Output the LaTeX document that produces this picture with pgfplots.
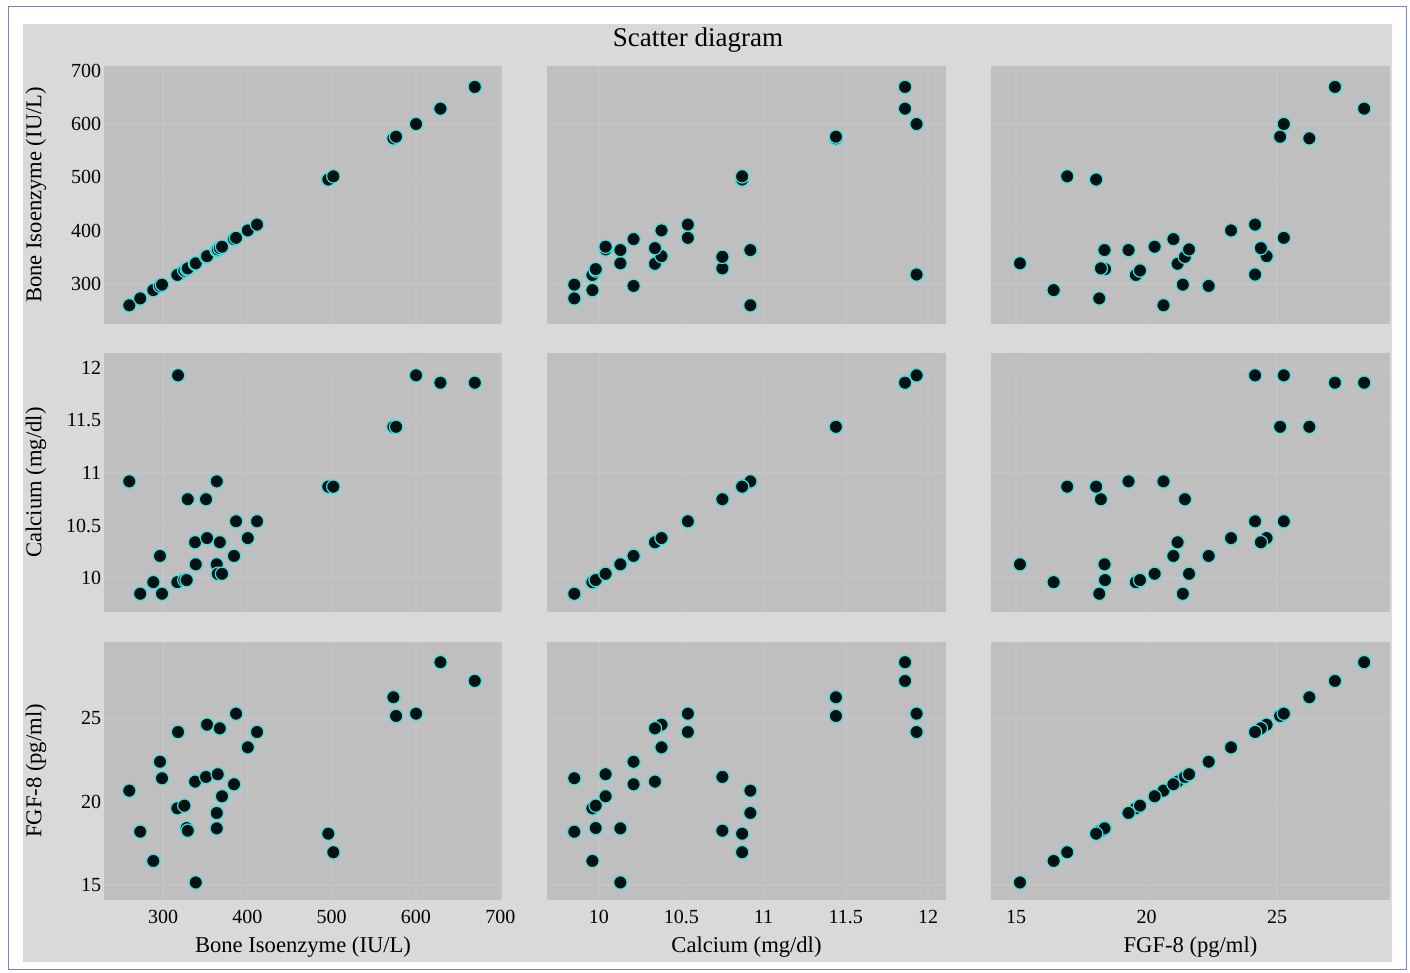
\documentclass[border=0pt]{standalone}
\usepackage{pgfplots}
\pgfplotsset{compat=1.18}
\usepackage{pgfplotstable}
\usepackage{fontspec}
\setmainfont{Liberation Serif}
\definecolor{outerbg}{HTML}{D9D9D9}
\definecolor{panelbg}{HTML}{BFBFBF}
\definecolor{gridc}{HTML}{C4C4C4}
\definecolor{frameblue}{HTML}{6F88C8}
\definecolor{ptfill}{HTML}{061010}
\definecolor{ptedge}{HTML}{3FE0E0}

\pgfplotstableread{
bone ca fgf
260 10.92 20.65
273 9.85 18.19
288.5 9.96 16.44
296.4 10.21 22.38
298.8 9.85 21.39
317.8 11.93 24.16
317 9.96 19.59
325.3 9.98 19.75
328 9.98 18.41
329.3 10.75 18.25
338 10.34 21.19
338.8 10.13 15.15
351 10.75 21.47
352.2 10.38 24.6
363.7 10.92 19.31
363.7 10.13 18.39
364.9 10.04 21.63
367.3 10.34 24.38
370 10.04 20.31
384.2 10.21 21.03
386.6 10.54 25.26
400.5 10.38 23.24
411.5 10.54 24.16
496 10.87 18.07
502 10.87 16.96
573.2 11.44 26.24
576.4 11.44 25.12
600.1 11.93 25.26
629 11.86 28.34
669.7 11.86 27.22
}\data

\pgfplotsset{
  panel/.style={scale only axis, anchor=south west,
    axis background/.style={fill=panelbg},
    axis line style={draw=none}, major tick length=0pt, tick style={draw=none},
    grid=major, grid style={gridc, line width=0.7pt},
    /pgf/number format/assume math mode=true,
    ticklabel style={font=\fontsize{10}{12}\selectfont},
    xticklabel style={yshift=-1.5pt},
    yticklabel style={inner sep=1.2pt},
    label style={font=\fontsize{11.3}{13}\selectfont},
    xlabel style={at={(axis description cs:0.5,-0.182)}, anchor=center},
    ylabel style={at={(axis description cs:-0.171,0.5)}, anchor=center},
  },
  bonex/.style={xmin=230, xmax=702, xtick={300,400,500,600,700}},
  bonexy/.style={ymin=225, ymax=709, ytick={300,400,500,600,700}},
  cax/.style={xmin=9.684, xmax=12.109, xtick={10,10.5,11,11.5,12}},
  cay/.style={ymin=9.676, ymax=12.143, ytick={10,10.5,11,11.5,12}},
  fgfx/.style={xmin=14.04, xmax=29.33, xtick={15,20,25}},
  fgfy/.style={ymin=14.10, ymax=29.55, ytick={15,20,25}},
  c1/.style={width=199pt},
  c2/.style={width=199.5pt},
  c3/.style={width=199.5pt},
  r1/.style={height=129pt},
  r2/.style={height=129.5pt},
  r3/.style={height=129pt},
  pts/.style={only marks, mark=*, mark size=3.35pt,
    mark options={fill=ptfill, draw=ptedge, line width=0.6pt}},
}

\begin{document}
\begin{tikzpicture}
\fill[white] (0pt,0pt) rectangle (705pt,-486.5pt);
\fill[outerbg] (11.5pt,-12pt) rectangle (696pt,-481pt);
\draw[frameblue, line width=0.6pt] (4.2pt,-3.4pt) rectangle (703.4pt,-484.6pt);
\node[font=\fontsize{13.5}{16}\selectfont] at (349pt,-20pt) {Scatter diagram};

% Row 1: y = Bone
\begin{axis}[panel, c1, r1, at={(52pt,-162pt)}, bonex, bonexy, xticklabels={},
  ylabel={Bone Isoenzyme (IU/L)}]
\addplot[pts] table[x=bone, y=bone] {\data};
\end{axis}
\begin{axis}[panel, c2, r1, at={(273.5pt,-162pt)}, cax, bonexy, xticklabels={}, yticklabels={}]
\addplot[pts] table[x=ca, y=bone] {\data};
\end{axis}
\begin{axis}[panel, c3, r1, at={(495.5pt,-162pt)}, fgfx, bonexy, xticklabels={}, yticklabels={}]
\addplot[pts] table[x=fgf, y=bone] {\data};
\end{axis}

% Row 2: y = Calcium
\begin{axis}[panel, c1, r2, at={(52pt,-306pt)}, bonex, cay, xticklabels={},
  ylabel={Calcium (mg/dl)}]
\addplot[pts] table[x=bone, y=ca] {\data};
\end{axis}
\begin{axis}[panel, c2, r2, at={(273.5pt,-306pt)}, cax, cay, xticklabels={}, yticklabels={}]
\addplot[pts] table[x=ca, y=ca] {\data};
\end{axis}
\begin{axis}[panel, c3, r2, at={(495.5pt,-306pt)}, fgfx, cay, xticklabels={}, yticklabels={}]
\addplot[pts] table[x=fgf, y=ca] {\data};
\end{axis}

% Row 3: y = FGF-8
\begin{axis}[panel, c1, r3, at={(52pt,-450pt)}, bonex, fgfy,
  xlabel={Bone Isoenzyme (IU/L)}, ylabel={FGF-8 (pg/ml)}]
\addplot[pts] table[x=bone, y=fgf] {\data};
\end{axis}
\begin{axis}[panel, c2, r3, at={(273.5pt,-450pt)}, cax, fgfy, yticklabels={},
  xlabel={Calcium (mg/dl)}]
\addplot[pts] table[x=ca, y=fgf] {\data};
\end{axis}
\begin{axis}[panel, c3, r3, at={(495.5pt,-450pt)}, fgfx, fgfy, yticklabels={},
  xlabel={FGF-8 (pg/ml)}]
\addplot[pts] table[x=fgf, y=fgf] {\data};
\end{axis}
\end{tikzpicture}
\end{document}
